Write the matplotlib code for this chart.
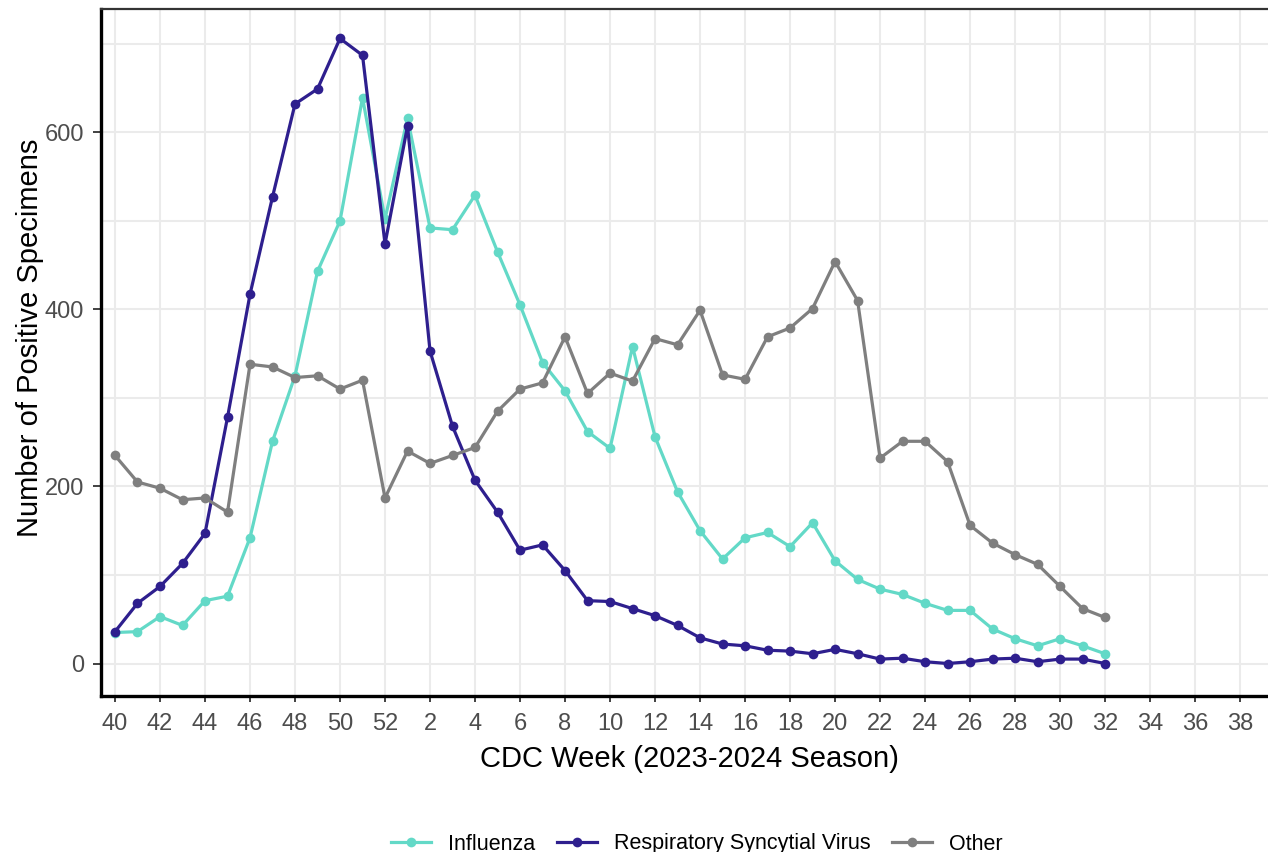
import matplotlib
matplotlib.use("Agg")
import matplotlib.pyplot as plt
from matplotlib.lines import Line2D
import numpy as np

plt.rcParams['font.family'] = ['Liberation Sans', 'DejaVu Sans']

# CDC season week order (40..52, then 1..39)
season_weeks = list(range(40, 53)) + list(range(1, 40))
data_weeks = list(range(40, 53)) + list(range(1, 33))
tick_weeks = list(range(40, 53, 2)) + list(range(2, 39, 2))

influenza = [35, 36, 53, 43, 71, 76, 142, 251, 325, 443, 500, 639, 502,
             616, 492, 490, 529, 465, 405, 340, 308, 262, 243,
             358, 256, 194, 150, 118, 142, 148, 132, 159, 116,
             95, 84, 78, 68, 60, 60, 39, 28, 20, 28,
             20, 11]
rsv = [36, 68, 87, 113, 147, 278, 417, 527, 632, 649, 706, 687, 474,
       607, 353, 268, 207, 171, 128, 134, 105, 71, 70,
       62, 54, 43, 29, 22, 20, 15, 14, 11, 16,
       11, 5, 6, 2, 0, 2, 5, 6, 2, 5,
       5, 0]
other = [235, 205, 198, 185, 187, 171, 338, 335, 323, 325, 310, 320, 187,
         240, 226, 235, 244, 285, 310, 317, 369, 305, 328,
         319, 367, 360, 399, 326, 321, 369, 379, 401, 454,
         410, 232, 251, 251, 228, 156, 136, 123, 112, 87,
         62, 52]

series_names = ["Influenza", "Respiratory Syncytial Virus", "Other"]
series_colors = ["#63d9c7", "#2e1f8e", "#7f7f7f"]

W, H = 1268, 852
fig = plt.figure(figsize=(W / 100, H / 100), dpi=100)
ax = fig.add_axes([101 / W, 1 - 696 / H, (1268 - 101) / W, (696 - 9) / H])

pos = {w: i for i, w in enumerate(season_weeks)}
xs = [pos[w] for w in data_weeks]

for vals, name, col in zip([influenza, rsv, other], series_names, series_colors):
    ax.plot(xs, vals, color=col, lw=2.3, marker='o', markersize=7.0,
            markeredgewidth=0, label=name, solid_capstyle='round', zorder=3)

ax.set_xlim(-0.622, 51.24)
ax.set_ylim(-36.7, 739.3)

ax.set_xticks([pos[w] for w in tick_weeks])
ax.set_xticklabels([str(w) for w in tick_weeks])
ax.set_yticks([0, 200, 400, 600])
ax.set_yticks([100, 300, 500, 700], minor=True)

ax.grid(True, which='major', color='#ebebeb', lw=1.5, zorder=0)
ax.grid(True, which='minor', axis='y', color='#ebebeb', lw=1.5, zorder=0)
ax.set_axisbelow(True)

ax.tick_params(axis='both', which='major', labelsize=17, labelcolor='#4d4d4d',
               color='#333333', width=1.3)
ax.tick_params(axis='y', which='major', length=6, pad=6)
ax.tick_params(axis='x', which='major', length=4, pad=8)
ax.tick_params(axis='y', which='minor', length=0)

for s in ['left', 'bottom']:
    ax.spines[s].set_color('black')
    ax.spines[s].set_linewidth(2.4)
ax.spines['top'].set_color('#333333')
ax.spines['top'].set_linewidth(1.6)
ax.spines['right'].set_visible(False)

fig.text(689 / W, 1 - 759 / H, "CDC Week (2023-2024 Season)", ha='center', va='center',
         fontsize=21, color='black')
fig.text(30 / W, 1 - 338 / H, "Number of Positive Specimens", ha='center', va='center',
         rotation=90, fontsize=21, color='black')

handles = [Line2D([0], [0], color=c, lw=2.3, marker='o', markersize=7.0, markeredgewidth=0)
           for c in series_colors]
fig.legend(handles, series_names, loc='center', bbox_to_anchor=(697 / W, 1 - 844 / H),
           ncol=3, frameon=False, fontsize=15.5, handlelength=1.85, handletextpad=0.8,
           columnspacing=1.0)

fig.savefig("out.png", dpi=100)
